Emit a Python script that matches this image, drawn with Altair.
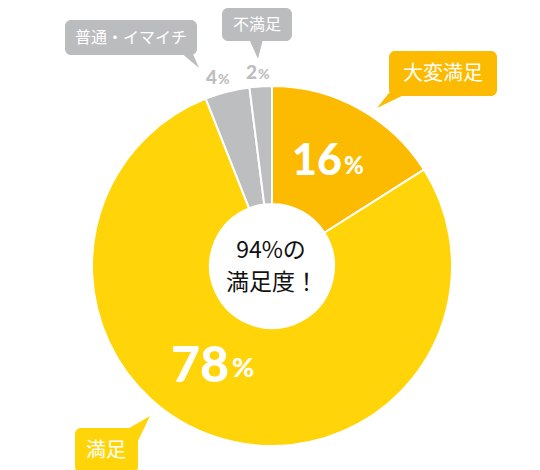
import altair as alt
import pandas as pd

# ---- data ----
categories = ["大変満足", "満足", "普通・イマイチ", "不満足"]
values = [16, 78, 4, 2]
colors = ["#FCBB00", "#FFD50A", "#BDBEC0", "#BDBEC0"]
center_lines = ["94%の", "満足度！"]

df = pd.DataFrame({"cat": categories, "val": values, "ord": list(range(len(values)))})

# ---- layout (page pixels; plot origin is at 8,8) ----
M = 8
CX, CY = 272, 260
R_OUT, R_IN = 180, 62
JP = "Noto Sans CJK JP"
NUM = "Lato"


def px(v):
    return alt.value(v - M)


def one(text):
    return alt.Data(values=[{"t": text}])


pie = alt.Chart(df).mark_arc(
    outerRadius=R_OUT, innerRadius=R_IN, stroke="white", strokeWidth=2
).encode(
    theta=alt.Theta("val:Q", stack=True),
    order=alt.Order("ord:Q"),
    color=alt.Color("cat:N", scale=alt.Scale(domain=categories, range=colors), legend=None),
    x=px(CX),
    y=px(CY),
)

layers = [pie]


def text(t, x, y, size, color, font=JP, weight="normal", align="center", baseline="middle"):
    return alt.Chart(one(t)).mark_text(
        font=font, fontSize=size, fontWeight=weight, color=color, align=align, baseline=baseline
    ).encode(text="t:N", x=px(x), y=px(y))


def box(x1, y1, x2, y2, color):
    return alt.Chart(one("")).mark_rect(color=color, cornerRadius=6).encode(
        x=px(x1), x2=px(x2), y=px(y1), y2=px(y2)
    )


def pointer(tip, b1, b2, color):
    s = 10.0
    path = "M0,0 L{:.2f},{:.2f} L{:.2f},{:.2f} Z".format(
        (b1[0] - tip[0]) / s, (b1[1] - tip[1]) / s, (b2[0] - tip[0]) / s, (b2[1] - tip[1]) / s
    )
    return alt.Chart(one("")).mark_point(
        shape=path, size=400, filled=True, opacity=1, color=color, strokeWidth=0
    ).encode(x=px(tip[0]), y=px(tip[1]))


GRAY_BOX = "#BBBCBE"
GRAY_TXT = "#BDBEC0"

# callouts
layers += [
    box(65, 14, 197, 49, GRAY_BOX),
    pointer((199, 62), (180, 46), (192, 46), GRAY_BOX),
    text(categories[2], 131, 32, 16, "white"),
    box(222, 2, 292, 35, GRAY_BOX),
    pointer((258, 53), (249, 33), (263, 33), GRAY_BOX),
    text(categories[3], 257, 19, 16, "white"),
    box(389, 45, 497, 90, colors[0]),
    pointer((377, 102), (389, 87), (408, 87), colors[0]),
    text(categories[0], 443, 68, 20, "white"),
    box(75, 422, 138, 467, colors[1]),
    pointer((150, 410), (124, 425), (137, 437), colors[1]),
    text(categories[1], 106, 445, 20, "white"),
]

# percentage labels
W = 900
layers += [
    text(str(values[0]), 342, 169, 43, "white", font=NUM, weight=W, align="right", baseline="alphabetic"),
    text("%", 344, 168, 24, "white", font=NUM, weight=W, align="left", baseline="alphabetic"),
    text(str(values[1]), 229, 376, 50, "white", font=NUM, weight=W, align="right", baseline="alphabetic"),
    text("%", 232, 371, 27, "white", font=NUM, weight=W, align="left", baseline="alphabetic"),
    text(str(values[2]), 217, 78, 19, GRAY_TXT, font=NUM, weight=W, align="right", baseline="alphabetic"),
    text("%", 218, 78, 14, GRAY_TXT, font=NUM, weight=W, align="left", baseline="alphabetic"),
    text(str(values[3]), 257, 73, 19, GRAY_TXT, font=NUM, weight=W, align="right", baseline="alphabetic"),
    text("%", 258, 73, 14, GRAY_TXT, font=NUM, weight=W, align="left", baseline="alphabetic"),
]

# center text
layers += [
    text(center_lines[0], 271, 245, 23, "#111111"),
    text(center_lines[1], 272, 277, 23, "#111111"),
]

chart = alt.layer(*layers).properties(
    width=524, height=454, padding=0, background="white"
).configure_view(stroke=None)

chart.save("out.html", embed_options={"renderer": "svg", "actions": False})
